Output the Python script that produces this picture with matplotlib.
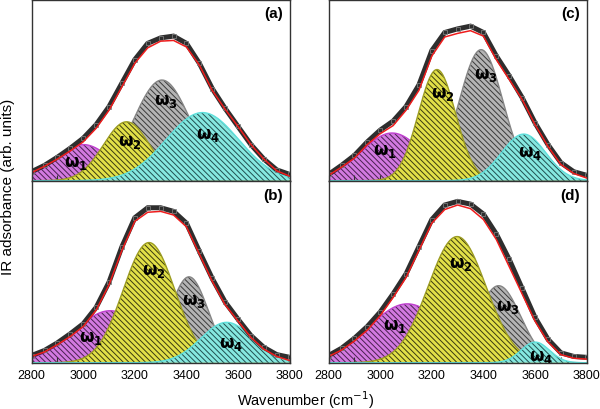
import matplotlib
matplotlib.use("Agg")
import matplotlib.pyplot as plt
import numpy as np

plt.rcParams["font.family"] = ["Liberation Sans", "DejaVu Sans"]
plt.rcParams["mathtext.fontset"] = "dejavusans"
plt.rcParams["hatch.linewidth"] = 0.7

################################################################################
# Data                                                    #
################################################################################
wn = np.arange(2800, 3801, 50)  # wavenumber grid of the read values (cm-1)

# fitted envelope (red) per panel, in units of the panel height
fit_a = [0.045, 0.08, 0.12, 0.165, 0.215, 0.29, 0.39, 0.52, 0.65, 0.735, 0.772,
         0.776, 0.74, 0.64, 0.50, 0.395, 0.30, 0.20, 0.12, 0.055, 0.025]
fit_b = [0.035, 0.06, 0.10, 0.145, 0.20, 0.29, 0.43, 0.62, 0.78, 0.83, 0.835,
         0.815, 0.75, 0.60, 0.45, 0.32, 0.23, 0.14, 0.075, 0.035, 0.012]
fit_c = [0.03, 0.075, 0.125, 0.20, 0.26, 0.305, 0.39, 0.50, 0.69, 0.795, 0.815,
         0.83, 0.80, 0.67, 0.56, 0.45, 0.31, 0.19, 0.09, 0.04, 0.015]
fit_d = [0.035, 0.07, 0.12, 0.18, 0.26, 0.36, 0.47, 0.62, 0.77, 0.845, 0.87,
         0.85, 0.79, 0.68, 0.53, 0.38, 0.23, 0.115, 0.045, 0.025, 0.02]

# measured spectrum (black open squares)
meas_a = [0.05, 0.085, 0.13, 0.18, 0.235, 0.31, 0.41, 0.54, 0.67, 0.76, 0.79,
          0.80, 0.76, 0.65, 0.51, 0.40, 0.30, 0.20, 0.12, 0.06, 0.035]
meas_b = [0.04, 0.068, 0.11, 0.16, 0.215, 0.305, 0.445, 0.64, 0.80, 0.855, 0.855,
          0.835, 0.77, 0.615, 0.465, 0.335, 0.24, 0.15, 0.085, 0.045, 0.03]
meas_c = [0.035, 0.085, 0.14, 0.215, 0.28, 0.33, 0.41, 0.53, 0.72, 0.82, 0.84,
          0.855, 0.82, 0.69, 0.58, 0.46, 0.32, 0.20, 0.10, 0.05, 0.03]
meas_d = [0.04, 0.08, 0.135, 0.20, 0.28, 0.38, 0.49, 0.64, 0.79, 0.87, 0.89,
          0.875, 0.82, 0.71, 0.57, 0.41, 0.25, 0.13, 0.055, 0.035, 0.03]

# gaussian components w1..w4: centre (cm-1), height, sigma (cm-1)
centre_a = [3000, 3168, 3305, 3462]
height_a = [0.20, 0.326, 0.557, 0.377]
sigma_a = [110, 90, 110, 140]

centre_b = [3104, 3255, 3410, 3556]
height_b = [0.287, 0.663, 0.474, 0.223]
sigma_b = [140, 100, 75, 100]

centre_c = [3046, 3220, 3391, 3556]
height_c = [0.264, 0.615, 0.725, 0.258]
sigma_c = [120, 72, 85, 85]

centre_d = [3105, 3298, 3459, 3601]
height_d = [0.325, 0.696, 0.425, 0.114]
sigma_d = [150, 112, 85, 55]

# label positions (wavenumber, height) of w1..w4
lab_a = [(2972, 0.10), (3182, 0.217), (3321, 0.445), (3482, 0.253)]
lab_b = [(3029, 0.141), (3274, 0.511), (3429, 0.346), (3572, 0.104)]
lab_c = [(3020, 0.167), (3241, 0.48), (3410, 0.59), (3579, 0.154)]
lab_d = [(3057, 0.205), (3313, 0.549), (3493, 0.31), (3623, 0.033)]

panel_tags = ["(a)", "(b)", "(c)", "(d)"]

face = ["#d27ae0", "#e2e048", "#b4b4b4", "#86e8e0"]
edge = ["#c040d0", "#9c9c22", "#858585", "#5fe0dc"]
hatchc = ["#4a2050", "#3a3a10", "#3a3a3a", "#205050"]
zorder = [1, 3, 2, 4]  # magenta, yellow, gray, cyan stacking

################################################################################
# Figure                                                                       #
################################################################################
fig = plt.figure(figsize=(6.0, 4.1), dpi=100)
pos = {
    "(a)": [0.0527, 0.555, 0.43, 0.4427],
    "(b)": [0.0527, 0.111, 0.43, 0.444],
    "(c)": [0.5477, 0.555, 0.43, 0.4427],
    "(d)": [0.5477, 0.111, 0.43, 0.444],
}
panels = {
    "(a)": (fit_a, meas_a, centre_a, height_a, sigma_a, lab_a),
    "(b)": (fit_b, meas_b, centre_b, height_b, sigma_b, lab_b),
    "(c)": (fit_c, meas_c, centre_c, height_c, sigma_c, lab_c),
    "(d)": (fit_d, meas_d, centre_d, height_d, sigma_d, lab_d),
}

x = np.linspace(2800, 3800, 501)
for tag in panel_tags:
    fit, meas, cen, hgt, sig, lab = panels[tag]
    ax = fig.add_axes(pos[tag])

    for k in range(4):
        y = hgt[k] * np.exp(-((x - cen[k]) ** 2) / (2 * sig[k] ** 2))
        z = zorder[k]
        ax.fill_between(x, 0, y, facecolor=face[k], edgecolor="none", zorder=z)
        ax.fill_between(x, 0, y, facecolor="none", edgecolor=hatchc[k],
                        hatch="\\\\\\\\\\\\", linewidth=0, zorder=z)
        ax.plot(x, y, color=edge[k], lw=1.0, zorder=z)
        ax.text(lab[k][0], lab[k][1], r"$\mathbf{\omega_%d}$" % (k + 1),
                fontsize=12, ha="center", va="center", zorder=6)

    ax.plot(wn, meas, color="#2e2e2e", lw=3.6, zorder=5, solid_joinstyle="miter")
    ax.plot(wn, meas, ls="none", marker="s", ms=3.2, mfc="none", mec="#7a7a7a",
            mew=0.6, zorder=5)
    ax.plot(wn, fit, color="#ee1c1c", lw=1.1, zorder=7)

    ax.text(0.975, 0.965, tag, transform=ax.transAxes, ha="right", va="top",
            fontsize=11, fontweight="bold")

    ax.set_xlim(2800, 3800)
    ax.set_ylim(-0.004, 1.0)
    ax.set_xticks(np.arange(2800, 3801, 200))
    ax.set_xticks(np.arange(2900, 3800, 200), minor=True)
    ax.set_yticks([])
    ax.tick_params(axis="x", which="both", direction="in", length=4,
                   width=0.8, color="#333333", labelsize=9, pad=4)
    if tag in ("(a)", "(c)"):
        ax.tick_params(axis="x", labelbottom=False)
    for s in ax.spines.values():
        s.set_linewidth(1.0)
        s.set_color("#333333")
        s.set_zorder(8)

fig.text(0.51, 0.024, "Wavenumber (cm$^{-1}$)", ha="center", va="center",
         fontsize=10.5)
fig.text(0.014, 0.545, "IR adsorbance (arb. units)", ha="center", va="center",
         rotation=90, fontsize=11)

fig.savefig("out.png", dpi=100)
